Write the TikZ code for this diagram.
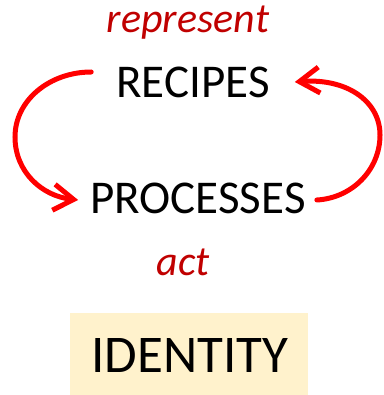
\documentclass[tikz,border=0pt]{standalone}
\usepackage{fontspec}
\setmainfont{Carlito}
\usetikzlibrary{arrows.meta}
\definecolor{darkred}{HTML}{C00000}
\definecolor{cream}{HTML}{FFF2CC}
\tikzset{
  word/.style={anchor=base, inner sep=0pt, font=\fontsize{47}{50}\selectfont},
  verb/.style={anchor=base, inner sep=0pt, text=darkred, font=\itshape\fontsize{42}{45}\selectfont},
  cycle/.style={draw=red, line width=5pt, line cap=round, -{Straight Barb[length=20pt,width=26pt,line width=5pt]}}
}
\begin{document}
\begin{tikzpicture}[x=1pt,y=-1pt]
\useasboundingbox (0,0) rectangle (383,395);
\fill[cream] (70,313) rectangle (308,395);
\node[verb] (represent) at (188,33) {represent};
\node[word] (recipes) at (193,98) {RECIPES};
\node[word] (processes) at (198,213) {PROCESSES};
\node[verb] (act) at (183,275) {act};
\node[anchor=base, inner sep=0pt, font=\fontsize{53}{56}\selectfont] (identity) at (190,372) {IDENTITY};
\draw[cycle] ([shift={(-25,-26)}]recipes.base west) .. controls (50,72) and (15,100) .. (15,137)
  .. controls (15,172) and (42,196) .. ([shift={(-12,-13)}]processes.base west);
\draw[cycle] ([shift={(11,-13)}]processes.base east) .. controls (352,198) and (380,170) .. (380,135)
  .. controls (380,100) and (345,78) .. ([shift={(25,-16)}]recipes.base east);
\end{tikzpicture}
\end{document}
